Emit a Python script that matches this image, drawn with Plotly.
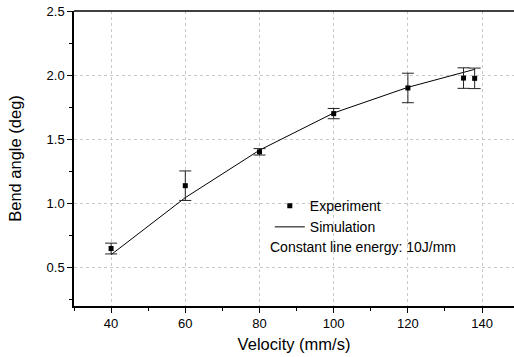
import plotly.graph_objects as go

# Experiment data
exp_velocity = [40, 60, 80, 100, 120, 135, 138]
exp_angle = [0.648, 1.138, 1.402, 1.700, 1.900, 1.977, 1.975]
exp_error = [0.042, 0.115, 0.025, 0.040, 0.115, 0.080, 0.080]

# Simulation data
sim_velocity = [40, 60, 80, 100, 120, 138]
sim_angle = [0.60, 1.045, 1.415, 1.705, 1.905, 2.045]

annotation_text = "Constant line energy: 10J/mm"

FONT = "Liberation Sans, Arial, sans-serif"

fig = go.Figure()

fig.add_trace(go.Scatter(
    x=sim_velocity, y=sim_angle, mode="lines", name="Simulation",
    line=dict(color="black", width=1),
))
fig.add_trace(go.Scatter(
    x=exp_velocity, y=exp_angle, mode="markers", name="Experiment",
    marker=dict(symbol="square", size=5, color="black"),
    error_y=dict(type="data", array=exp_error, visible=True,
                 color="#222222", thickness=1, width=6),
))

fig.update_layout(
    width=514, height=357,
    margin=dict(l=74, r=0, t=11, b=51),
    paper_bgcolor="white", plot_bgcolor="white",
    font=dict(family=FONT, size=13, color="black"),
    showlegend=True,
    legend=dict(
        x=0.445, y=0.393, xanchor="left", yanchor="top",
        bgcolor="rgba(0,0,0,0)", borderwidth=0,
        traceorder="reversed",
        font=dict(family=FONT, size=14, color="black"),
        itemwidth=30, tracegroupgap=0,
    ),
    xaxis=dict(
        range=[30, 148.6], dtick=20, tick0=0,
        showline=True, linecolor="black", linewidth=1.5, mirror=False,
        ticks="outside", ticklen=5, tickwidth=1, tickcolor="black",
        minor=dict(ticks="outside", ticklen=3, dtick=10, tick0=0, tickcolor="black", showgrid=False),
        showgrid=True, gridcolor="#c8c8c8", griddash="dot", gridwidth=1,
        zeroline=False,
        title=dict(text="Velocity (mm/s)", font=dict(size=16.5), standoff=8),
        tickfont=dict(size=13),
    ),
    yaxis=dict(
        range=[0.2, 2.5], dtick=0.5, tick0=0.5, tickformat=".1f",
        showline=True, linecolor="black", linewidth=1.5,
        ticks="outside", ticklen=5, tickwidth=1, tickcolor="black",
        minor=dict(ticks="outside", ticklen=3, dtick=0.25, tick0=0, tickcolor="black", showgrid=False),
        showgrid=True, gridcolor="#c8c8c8", griddash="dot", gridwidth=1,
        zeroline=False,
        title=dict(text="Bend angle (deg)", font=dict(size=16.5), standoff=21),
        tickfont=dict(size=13),
    ),
    shapes=[
        dict(type="line", xref="paper", yref="paper", x0=0, x1=1, y0=1, y1=1,
             line=dict(color="black", width=1.5)),
        dict(type="rect", xref="paper", yref="paper", x0=0.407, x1=0.907, y0=0.166, y1=0.41,
             fillcolor="white", line=dict(width=0), layer="between"),
    ],
    annotations=[dict(
        text=annotation_text, xref="paper", yref="paper",
        x=0.441, y=0.200, xanchor="left", yanchor="middle", showarrow=False,
        font=dict(family=FONT, size=14, color="black"),
    )],
)

fig.write_html("out.html", config={"displayModeBar": False},
               post_script="document.body.style.margin='0';")
